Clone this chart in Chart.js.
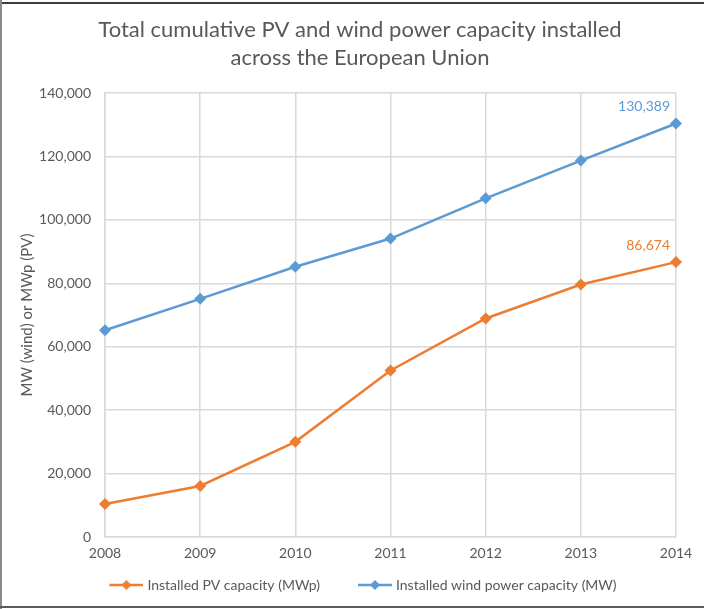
<!DOCTYPE html>
<html>
<head>
<meta charset="utf-8">
<script src="https://cdn.jsdelivr.net/npm/chart.js@4"></script>
<style>
  html, body { margin: 0; padding: 0; background: #fff; }
  #wrap { width: 704px; height: 609px; position: relative; }
</style>
</head>
<body>
<div id="wrap"><canvas id="grafico"></canvas></div>
<script>
// Dados
const anos = ['2008', '2009', '2010', '2011', '2012', '2013', '2014'];
const pvCapacidade = [10400, 16100, 30000, 52500, 68900, 79600, 86674];
const eolicaCapacidade = [65200, 75100, 85200, 94100, 106800, 118700, 130389];
const ticksY = [0, 20000, 40000, 60000, 80000, 100000, 120000, 140000];
const titulo = ['Total cumulative PV and wind power capacity installed', 'across the European Union'];

const COR_PV = '#ED7D31';
const COR_EOLICA = '#5B9BD5';
const FONTE = 'Lato, "Liberation Sans", sans-serif';

// ícone de legenda: linha com losango (com folga transparente à esquerda)
const FOLGA = 28;
function iconeLegenda(cor) {
  const c = document.createElement('canvas');
  c.width = FOLGA + 37; c.height = 12;
  const g = c.getContext('2d');
  const x0 = FOLGA + 3, x1 = FOLGA + 37, xm = (x0 + x1) / 2;
  g.strokeStyle = cor; g.lineWidth = 2.5;
  g.beginPath(); g.moveTo(x0, 6); g.lineTo(x1, 6); g.stroke();
  g.fillStyle = cor;
  g.beginPath(); g.moveTo(xm, 1); g.lineTo(xm + 5, 6); g.lineTo(xm, 11); g.lineTo(xm - 5, 6); g.closePath(); g.fill();
  return c;
}

// título, moldura e rótulo do último ponto
const extras = {
  id: 'extras',
  afterDraw(chart) {
    const ctx = chart.ctx;
    ctx.save();
    ctx.textBaseline = 'middle';
    ctx.textAlign = 'center';
    ctx.fillStyle = '#595959';
    ctx.font = '22px ' + FONTE;
    ctx.fillText(titulo[0], 360, 30);
    ctx.fillText(titulo[1], 360, 58);

    ctx.font = '14px ' + FONTE;
    ctx.textAlign = 'right';
    chart.data.datasets.forEach((ds, i) => {
      const meta = chart.getDatasetMeta(i);
      const last = meta.data[meta.data.length - 1];
      const v = ds.data[ds.data.length - 1];
      ctx.fillStyle = ds.borderColor;
      ctx.fillText(v.toLocaleString('en-US'), last.x - 6, last.y - 17);
    });
    ctx.fillStyle = '#3c3c3c';
    ctx.fillRect(0, 2, 704, 2);
    ctx.fillStyle = '#8a8a8a';
    ctx.fillRect(0, 0, 2, 609);
    ctx.fillStyle = '#5a5a5a';
    ctx.fillRect(0, 606, 704, 2);
    ctx.restore();
  }
};

new Chart(document.getElementById('grafico'), {
  type: 'line',
  data: {
    labels: anos,
    datasets: [
      {
        label: 'Installed PV capacity (MWp)',
        data: pvCapacidade,
        borderColor: COR_PV,
        backgroundColor: COR_PV,
        borderWidth: 2.5,
        pointStyle: 'rectRot',
        pointRadius: 6,
        pointBorderWidth: 0,
        tension: 0
      },
      {
        label: 'Installed wind power capacity (MW)',
        data: eolicaCapacidade,
        borderColor: COR_EOLICA,
        backgroundColor: COR_EOLICA,
        borderWidth: 2.5,
        pointStyle: 'rectRot',
        pointRadius: 6,
        pointBorderWidth: 0,
        tension: 0
      }
    ]
  },
  options: {
    responsive: true,
    maintainAspectRatio: false,
    animation: false,
    layout: { padding: { left: 22, right: 28, top: 93, bottom: 7 } },
    plugins: {
      title: { display: false },
      legend: {
        position: 'bottom',
        maxHeight: 42,
        labels: {
          color: '#595959',
          font: { family: FONTE, size: 14 },
          usePointStyle: true,
          pointStyleWidth: FOLGA + 31,
          padding: 10,
          generateLabels(chart) {
            return chart.data.datasets.map((ds, i) => ({
              text: ds.label,
              pointStyle: iconeLegenda(ds.borderColor),
              fillStyle: ds.borderColor,
              strokeStyle: ds.borderColor,
              lineWidth: 0,
              hidden: false,
              fontColor: '#595959',
              datasetIndex: i
            }));
          }
        }
      },
      tooltip: { enabled: false }
    },
    scales: {
      x: {
        offset: false,
        afterFit(axis) { axis.height = 31; },
        grid: { color: '#d9d9d9', lineWidth: 1.5, drawTicks: false },
        border: { color: '#d9d9d9', width: 1.5 },
        ticks: { color: '#595959', font: { family: FONTE, size: 14 }, padding: 8 }
      },
      y: {
        min: 0,
        max: 140000,
        afterBuildTicks(axis) { axis.ticks = ticksY.map(v => ({ value: v })); },
        afterFit(axis) { axis.width = 83; },
        grid: { color: '#d9d9d9', lineWidth: 1.5, drawTicks: false },
        border: { color: '#d9d9d9', width: 1.5 },
        title: {
          display: true,
          text: 'MW (wind) or MWp (PV)',
          color: '#595959',
          font: { family: FONTE, size: 15 },
          padding: { top: -4, bottom: 0 }
        },
        ticks: {
          color: '#595959',
          font: { family: FONTE, size: 14 },
          padding: 14,
          callback: v => v.toLocaleString('en-US')
        }
      }
    }
  },
  plugins: [extras]
});
</script>
</body>
</html>
